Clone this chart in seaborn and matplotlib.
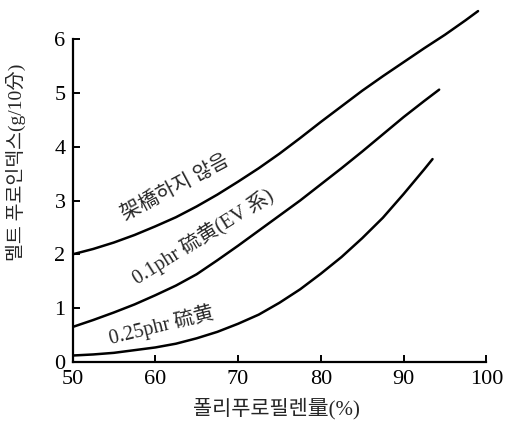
import matplotlib
matplotlib.use("Agg")
import matplotlib.pyplot as plt
import seaborn as sns
import pandas as pd

# ---- data ----
x_none = [50, 52.5, 55, 57.5, 60, 62.5, 65, 67.5, 70, 72.5, 75, 77.5, 80, 82.5, 85, 87.5, 90, 92.5, 95, 97.5, 99]
y_none = [2.00, 2.10, 2.22, 2.36, 2.52, 2.69, 2.89, 3.11, 3.35, 3.60, 3.87, 4.16, 4.46, 4.75, 5.04, 5.31, 5.57, 5.83, 6.08, 6.35, 6.52]

x_01 = [50, 52.5, 55, 57.5, 60, 62.5, 65, 67.5, 70, 72.5, 75, 77.5, 80, 82.5, 85, 87.5, 90, 92.5, 94.3]
y_01 = [0.65, 0.78, 0.92, 1.07, 1.24, 1.42, 1.63, 1.89, 2.16, 2.44, 2.72, 3.00, 3.30, 3.60, 3.91, 4.23, 4.55, 4.85, 5.06]

x_025 = [50, 52.5, 55, 57.5, 60, 62.5, 65, 67.5, 70, 72.5, 75, 77.5, 80, 82.5, 85, 87.5, 90, 92.5, 93.5]
y_025 = [0.12, 0.14, 0.17, 0.22, 0.27, 0.34, 0.44, 0.56, 0.71, 0.88, 1.10, 1.35, 1.64, 1.95, 2.30, 2.68, 3.12, 3.58, 3.77]

series_names = ["架橋하지 않음", "0.1phr 硫黄(EV 系)", "0.25phr 硫黄"]
x_ticks = [50, 60, 70, 80, 90, 100]
y_ticks = [0, 1, 2, 3, 4, 5, 6]
x_label = "폴리푸로필렌量(%)"
y_label = "멜트 푸로인덱스(g/10分)"

frames = []
for name, xs, ys in zip(series_names, [x_none, x_01, x_025], [y_none, y_01, y_025]):
    frames.append(pd.DataFrame({"x": xs, "y": ys, "series": name}))
df = pd.concat(frames, ignore_index=True)

sns.set_style("ticks")
plt.rcParams["font.family"] = ["Liberation Serif", "Noto Sans CJK KR", "DejaVu Sans"]

fig = plt.figure(figsize=(5.06, 4.29), dpi=100)
ax = fig.add_axes([0.1433, 0.1562, 0.826, 0.828])

sns.lineplot(data=df, x="x", y="y", units="series", estimator=None, sort=False,
             color="black", linewidth=1.8, ax=ax, legend=False)

ax.set_xlim(50, 100.5)
ax.set_ylim(0, 6.6)
ax.set_xticks(x_ticks)
ax.set_yticks(y_ticks)
ax.spines["top"].set_visible(False)
ax.spines["right"].set_visible(False)
ax.spines["left"].set_bounds(0, 6)
ax.spines["bottom"].set_bounds(50, 100)
for s in ("left", "bottom"):
    ax.spines[s].set_linewidth(1.6)
    ax.spines[s].set_color("black")
ax.tick_params(axis="both", direction="in", length=5, width=1.4, colors="black", labelsize=16)
ax.tick_params(axis="x", pad=6)
ax.tick_params(axis="y", pad=5)

ax.set_xlabel(x_label, fontsize=15)
ax.set_ylabel(y_label, fontsize=14)
ax.xaxis.set_label_coords(0.489, -0.1)
ax.yaxis.set_label_coords(-0.112, 0.563)

ax.text(62.4, 3.22, series_names[0], rotation=28, rotation_mode="anchor",
        ha="center", va="center", fontsize=14.5)
ax.text(65.8, 2.33, series_names[1], rotation=32, rotation_mode="anchor",
        ha="center", va="center", fontsize=14.5)
ax.text(60.8, 0.68, series_names[2], rotation=14, rotation_mode="anchor",
        ha="center", va="center", fontsize=14.5)

fig.savefig("out.png", dpi=100, facecolor="white")
